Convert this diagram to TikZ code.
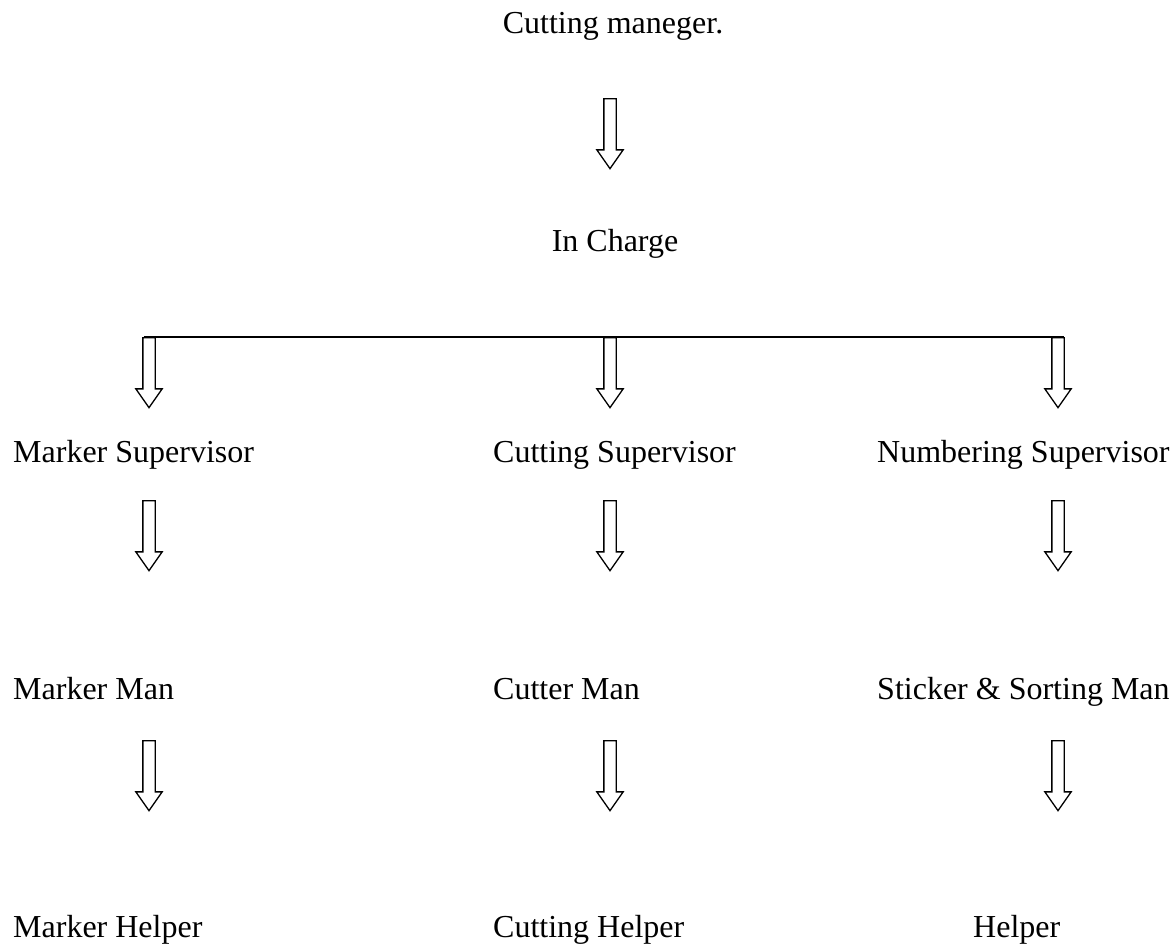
\documentclass[tikz,border=0pt]{standalone}
\usepackage{fontspec}
\setmainfont{Liberation Serif}
\usetikzlibrary{shapes.arrows}
\begin{document}
\begin{tikzpicture}[x=1pt,y=-1pt]
    \tikzstyle{role}=[anchor=base west,inner sep=0pt,font=\fontsize{32}{38}\selectfont]
    \tikzstyle{down}=[single arrow,draw,line width=1.3pt,shape border rotate=270,anchor=tail,
      minimum height=70pt,inner sep=5.5pt,single arrow head extend=7pt,single arrow tip angle=70]
    \useasboundingbox (0,0) rectangle (1175,945);

      \node (mgr) at (613, 33) [role,anchor=base] {Cutting maneger.};
      \node (a0) at (610, 98) [down] {};
      \node (inch) at (615, 251) [role,anchor=base] {In Charge};

      \node (a1) at (149, 337) [down] {};
      \node (a2) at (610, 337) [down] {};
      \node (a3) at (1058, 337) [down] {};
      \draw[line width=1.3pt] ([xshift=-5.5pt]a1.tail) -- ([xshift=5.5pt]a3.tail);

      \node (sup1) at (13, 462) [role] {Marker Supervisor};
      \node (sup2) at (493, 462) [role] {Cutting Supervisor};
      \node (sup3) at (877, 462) [role] {Numbering Supervisor};

      \node (b1) at (149, 500) [down] {};
      \node (b2) at (610, 500) [down] {};
      \node (b3) at (1058, 500) [down] {};

      \node (man1) at (13, 699) [role] {Marker Man};
      \node (man2) at (493, 699) [role] {Cutter Man};
      \node (man3) at (877, 699) [role] {Sticker \& Sorting Man};

      \node (c1) at (149, 740) [down] {};
      \node (c2) at (610, 740) [down] {};
      \node (c3) at (1058, 740) [down] {};

      \node (help1) at (13, 937) [role] {Marker Helper};
      \node (help2) at (493, 937) [role] {Cutting Helper};
      \node (help3) at (973, 937) [role] {Helper};
\end{tikzpicture}
\end{document}
